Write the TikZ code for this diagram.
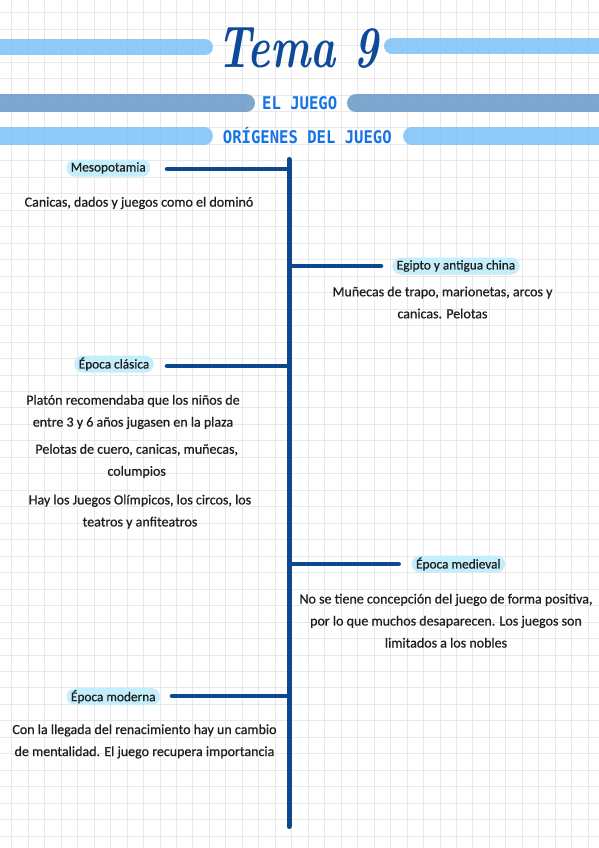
\documentclass[tikz,border=0pt]{standalone}
\usepackage{fontspec}
\newfontfamily\bodyfont{Carlito}[FakeBold=0.6]
\newfontfamily\hdrfont{DejaVu Sans Mono}[FakeStretch=0.89]
\definecolor{gridc}{RGB}{232,232,232}
\definecolor{barl}{RGB}{124,193,248}
\definecolor{bars}{RGB}{104,152,200}
\definecolor{spinec}{RGB}{12,72,142}
\definecolor{titlec}{RGB}{14,74,151}
\definecolor{hdrc}{RGB}{20,115,230}
\definecolor{pillc}{RGB}{196,238,251}
\definecolor{txtc}{RGB}{30,30,30}
\begin{document}
\begin{tikzpicture}[x=1pt,y=-1pt,
  gridline/.style={draw=gridc, line width=0.85pt},
  barlight/.style={draw=barl, line width=16pt, line cap=round, opacity=0.85},
  barsteel/.style={draw=bars, line width=18pt, line cap=round, opacity=0.85},
  spine/.style={draw=spinec, line width=5pt, line cap=round},
  conn/.style={draw=spinec, line width=4.5pt, line cap=round},
  hdr/.style={inner sep=0pt, anchor=base, text=hdrc, font=\hdrfont\bfseries\fontsize{17.5}{17.5}\selectfont},
  pill/.style={fill=pillc, rounded corners=8.5pt, minimum height=17pt, inner xsep=4.5pt, inner ysep=0pt, text=txtc, font=\bodyfont\fontsize{13.3}{13.3}\selectfont},
  body/.style={align=center, inner sep=0pt, text=txtc, font=\bodyfont\fontsize{14}{22}\selectfont}
]
\useasboundingbox (0,0) rectangle (599,848);
\begin{scope}
\clip (0,0) rectangle (599,848);
\fill[white] (0,0) rectangle (599,848);
\foreach \i in {0,...,35} \draw[gridline] ({11.7+16.47*\i},0) -- ({11.7+16.47*\i},848);
\foreach \j in {0,...,50} \draw[gridline] (0,{12.6+16.47*\j}) -- (599,{12.6+16.47*\j});
% header bars
\draw[barlight] (-30,47) -- (205,47);
\draw[barlight] (392,46) -- (630,46);
\draw[barsteel] (-30,103) -- (246,103);
\draw[barsteel] (356,103) -- (630,103);
\draw[barlight, line width=17pt] (-30,136) -- (204.5,136);
\draw[barlight, line width=17pt] (411.5,136) -- (630,136);
\end{scope}
% title
\node[anchor=base, inner sep=0pt, text=titlec] (title) at (298,68)
  {\scalebox{0.76}[1.05]{\fontsize{56}{56}\selectfont\bfseries\itshape Tema 9}};
\node[hdr] (h1) at (299.7,110) {EL JUEGO};
\node[hdr] (h2) at (307.3,143.3) {ORÍGENES DEL JUEGO};
% spine
\coordinate (top) at (289,159.5);
\coordinate (bot) at (289,826.5);
\draw[spine] (top) -- (bot);
% labels
\node[pill] (meso) at (108.3,168) {Mesopotamia};
\node[pill] (egipto) at (456,266) {Egipto y antigua china};
\node[pill] (clasica) at (114,364) {Época clásica};
\node[pill] (medieval) at (458.3,564) {Época medieval};
\node[pill] (moderna) at (113.3,696.7) {Época moderna};
% connectors
\coordinate (c1) at (167,169);   \coordinate (j1) at (289,169);
\coordinate (c2) at (381,266);   \coordinate (j2) at (289,266);
\coordinate (c3) at (167,366);   \coordinate (j3) at (289,366);
\coordinate (c4) at (398.7,564); \coordinate (j4) at (289,564);
\coordinate (c5) at (172,696);   \coordinate (j5) at (289,696);
\draw[conn] (c1) -- (j1);
\draw[conn] (j2) -- (c2);
\draw[conn] (c3) -- (j3);
\draw[conn] (j4) -- (c4);
\draw[conn] (c5) -- (j5);
% body texts
\node[body] (t1) at (139,203) {Canicas, dados y juegos como el dominó};
\node[body] (t2) at (442.5,302.5) {Muñecas de trapo, marionetas, arcos y\\canicas. Pelotas};
\node[body] (t3) at (133,412) {Platón recomendaba que los niños de\\entre 3 y 6 años jugasen en la plaza};
\node[body] (t4) at (136.7,461) {Pelotas de cuero, canicas, muñecas,\\columpios};
\node[body] (t5) at (140,511.7) {Hay los Juegos Olímpicos, los circos, los\\teatros y anfiteatros};
\node[body] (t6) at (446,620.7) {No se tiene concepción del juego de forma positiva,\\por lo que muchos desaparecen. Los juegos son\\limitados a los nobles};
\node[body] (t7) at (144.5,741.4) {Con la llegada del renacimiento hay un cambio\\de mentalidad. El juego recupera importancia};
\end{tikzpicture}
\end{document}
